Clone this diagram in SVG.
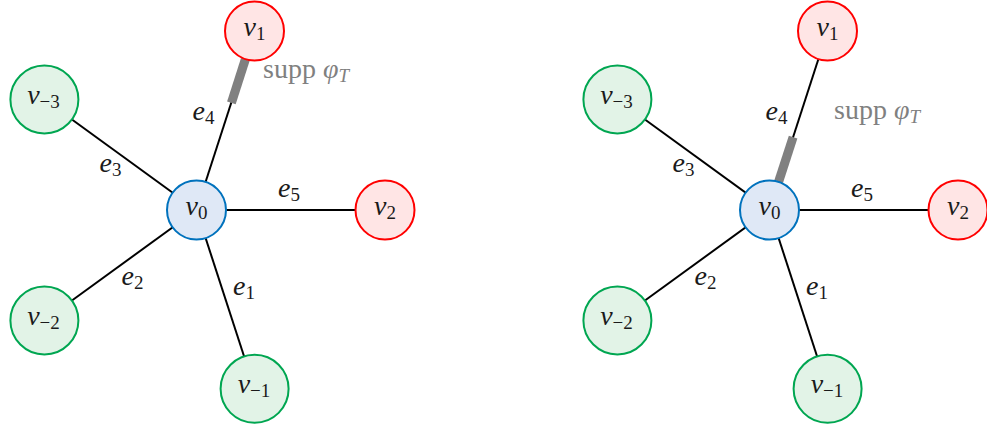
<svg xmlns="http://www.w3.org/2000/svg" width="987" height="429" viewBox="0 0 987 429">
<style>
.edge{stroke:#000;stroke-width:2;fill:none}
.bar{stroke:#808080;stroke-width:9;stroke-linecap:butt}
.red{fill:#ffe5e5;stroke:#ff0000;stroke-width:2}
.green{fill:#e2f3e7;stroke:#00a651;stroke-width:2}
.blue{fill:#dfe8f6;stroke:#0072bd;stroke-width:2}
text{font-family:"Liberation Serif","DejaVu Serif",serif;font-size:28px;fill:#1a1a1a}
.it{font-style:italic}
.sub{font-size:19px;font-style:normal}
.lbl{text-anchor:middle}
.gray{fill:#808080}
</style>
<g id="connectors">
<line class="edge" x1="196.5" y1="210" x2="254.5" y2="31"/>
<line class="edge" x1="196.5" y1="210" x2="385" y2="210"/>
<line class="edge" x1="196.5" y1="210" x2="44.4" y2="99.5"/>
<line class="edge" x1="196.5" y1="210" x2="44.4" y2="320.5"/>
<line class="edge" x1="196.5" y1="210" x2="254.6" y2="388.8"/>
<line class="bar" x1="245.3" y1="59.5" x2="231.4" y2="102.8"/>
<line class="edge" x1="769.5" y1="210" x2="827.5" y2="31"/>
<line class="edge" x1="769.5" y1="210" x2="958" y2="210"/>
<line class="edge" x1="769.5" y1="210" x2="617.4" y2="99.5"/>
<line class="edge" x1="769.5" y1="210" x2="617.4" y2="320.5"/>
<line class="edge" x1="769.5" y1="210" x2="827.6" y2="388.8"/>
<line class="bar" x1="778.7" y1="181.5" x2="793.1" y2="137.2"/>
</g>
<g id="edge-labels">
<text x="192.5" y="120"><tspan class="it">e</tspan><tspan class="sub" dy="4">4</tspan></text>
<text x="278" y="197"><tspan class="it">e</tspan><tspan class="sub" dy="4">5</tspan></text>
<text x="99.5" y="172"><tspan class="it">e</tspan><tspan class="sub" dy="4">3</tspan></text>
<text x="121.5" y="285"><tspan class="it">e</tspan><tspan class="sub" dy="4">2</tspan></text>
<text x="233" y="295"><tspan class="it">e</tspan><tspan class="sub" dy="4">1</tspan></text>
<text class="gray" x="263" y="77.5">supp <tspan class="it">φ</tspan><tspan class="sub" dy="4" style="font-style:italic">T</tspan></text>
<text x="765.5" y="120"><tspan class="it">e</tspan><tspan class="sub" dy="4">4</tspan></text>
<text x="851" y="197"><tspan class="it">e</tspan><tspan class="sub" dy="4">5</tspan></text>
<text x="672.5" y="172"><tspan class="it">e</tspan><tspan class="sub" dy="4">3</tspan></text>
<text x="694.5" y="285"><tspan class="it">e</tspan><tspan class="sub" dy="4">2</tspan></text>
<text x="806" y="295"><tspan class="it">e</tspan><tspan class="sub" dy="4">1</tspan></text>
<text class="gray" x="834" y="118.5">supp <tspan class="it">φ</tspan><tspan class="sub" dy="4" style="font-style:italic">T</tspan></text>
</g>
<g id="L-v0"><circle class="blue" cx="196.5" cy="210" r="29.5"/><text class="lbl" x="196.5" y="215"><tspan class="it">v</tspan><tspan class="sub" dy="4">0</tspan></text></g>
<g id="L-v1"><circle class="red" cx="254.5" cy="31" r="29.5"/><text class="lbl" x="254.5" y="36"><tspan class="it">v</tspan><tspan class="sub" dy="4">1</tspan></text></g>
<g id="L-v2"><circle class="red" cx="385" cy="210" r="29.5"/><text class="lbl" x="385" y="215"><tspan class="it">v</tspan><tspan class="sub" dy="4">2</tspan></text></g>
<g id="L-vm3"><circle class="green" cx="44.4" cy="99.5" r="34"/><text class="lbl" x="43.5" y="103.5"><tspan class="it">v</tspan><tspan class="sub" dy="4">−3</tspan></text></g>
<g id="L-vm2"><circle class="green" cx="44.4" cy="320.5" r="34"/><text class="lbl" x="43.5" y="324.5"><tspan class="it">v</tspan><tspan class="sub" dy="4">−2</tspan></text></g>
<g id="L-vm1"><circle class="green" cx="254.6" cy="388.8" r="34"/><text class="lbl" x="254" y="392.8"><tspan class="it">v</tspan><tspan class="sub" dy="4">−1</tspan></text></g>
<g id="R-v0"><circle class="blue" cx="769.5" cy="210" r="29.5"/><text class="lbl" x="769.5" y="215"><tspan class="it">v</tspan><tspan class="sub" dy="4">0</tspan></text></g>
<g id="R-v1"><circle class="red" cx="827.5" cy="31" r="29.5"/><text class="lbl" x="827.5" y="36"><tspan class="it">v</tspan><tspan class="sub" dy="4">1</tspan></text></g>
<g id="R-v2"><circle class="red" cx="958" cy="210" r="29.5"/><text class="lbl" x="958" y="215"><tspan class="it">v</tspan><tspan class="sub" dy="4">2</tspan></text></g>
<g id="R-vm3"><circle class="green" cx="617.4" cy="99.5" r="34"/><text class="lbl" x="616.5" y="103.5"><tspan class="it">v</tspan><tspan class="sub" dy="4">−3</tspan></text></g>
<g id="R-vm2"><circle class="green" cx="617.4" cy="320.5" r="34"/><text class="lbl" x="616.5" y="324.5"><tspan class="it">v</tspan><tspan class="sub" dy="4">−2</tspan></text></g>
<g id="R-vm1"><circle class="green" cx="827.6" cy="388.8" r="34"/><text class="lbl" x="827" y="392.8"><tspan class="it">v</tspan><tspan class="sub" dy="4">−1</tspan></text></g>
</svg>
